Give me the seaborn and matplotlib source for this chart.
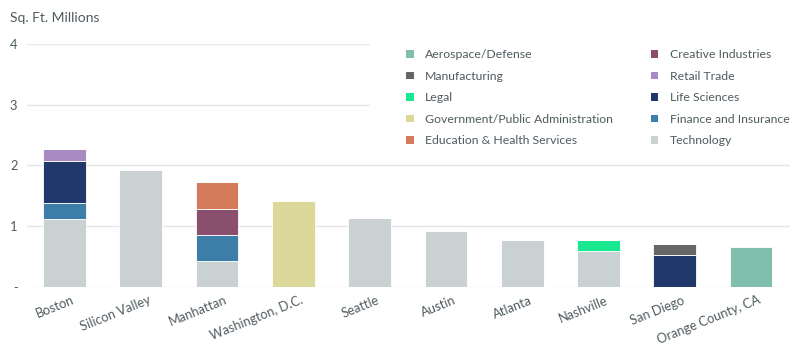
import pandas as pd
import matplotlib.pyplot as plt
import seaborn as sns
from matplotlib.patches import Patch, Rectangle
from matplotlib.transforms import ScaledTranslation

# Data (million sq. ft.)
cities = ['Boston', 'Silicon Valley', 'Manhattan', 'Washington, D.C.', 'Seattle',
          'Austin', 'Atlanta', 'Nashville', 'San Diego', 'Orange County, CA']

# legend order (also top-to-bottom stack order)
sectors = ['Aerospace/Defense', 'Manufacturing', 'Legal', 'Government/Public Administration',
           'Education & Health Services', 'Creative Industries', 'Retail Trade',
           'Life Sciences', 'Finance and Insurance', 'Technology']

aerospace     = [0, 0, 0, 0, 0, 0, 0, 0, 0, 0.65]
manufacturing = [0, 0, 0, 0, 0, 0, 0, 0, 0.18, 0]
legal         = [0, 0, 0, 0, 0, 0, 0, 0.18, 0, 0]
government    = [0, 0, 0, 1.42, 0, 0, 0, 0, 0, 0]
education     = [0, 0, 0.44, 0, 0, 0, 0, 0, 0, 0]
creative      = [0, 0, 0.42, 0, 0, 0, 0, 0, 0, 0]
retail        = [0.19, 0, 0, 0, 0, 0, 0, 0, 0, 0]
life_sciences = [0.70, 0, 0, 0, 0, 0, 0, 0, 0.53, 0]
finance       = [0.26, 0, 0.43, 0, 0, 0, 0, 0, 0, 0]
technology    = [1.12, 1.93, 0.43, 0, 1.13, 0.92, 0.77, 0.59, 0, 0]

colors = ['#80bfac', '#666666', '#19e890', '#dbd899', '#d57a5a',
          '#8a4e6f', '#a98bc4', '#20386a', '#3d7ea8', '#c9d1d3']

series = [aerospace, manufacturing, legal, government, education,
          creative, retail, life_sciences, finance, technology]

rows = []
for i, city in enumerate(cities):
    for sector, vals in zip(sectors, series):
        if vals[i] > 0:
            rows.append({'city': city, 'sector': sector, 'value': vals[i]})
df = pd.DataFrame(rows)

sns.set_style('white')
plt.rcParams['font.family'] = ['Lato', 'DejaVu Sans']
text_color = '#4f5b5f'

fig = plt.figure(figsize=(8, 3.59), dpi=100)
ax = fig.add_axes([0.034, 0.2006, 0.9535, 0.677])

sns.histplot(data=df, x='city', weights='value', hue='sector', hue_order=sectors,
             palette=colors, multiple='stack', discrete=True, shrink=0.56,
             alpha=1, edgecolor='white', linewidth=0.6, legend=False, ax=ax)

ax.set_xlim(-0.49, 9.51)
ax.set_ylim(0, 4)
ax.set_yticks([0, 1, 2, 3, 4])
ax.set_yticklabels(['-', '1', '2', '3', '4'])
ax.set_xlabel('')
ax.set_ylabel('')
ax.grid(axis='y', color='#e6e6e6', linewidth=1)
ax.set_axisbelow(True)
for s in ax.spines.values():
    s.set_visible(False)
ax.tick_params(axis='both', length=0, colors=text_color, labelsize=9.3)
ax.tick_params(axis='y', pad=7)
ax.tick_params(axis='x', pad=5)
shift = ScaledTranslation(5 / 72, 0, fig.dpi_scale_trans)
for lab in ax.get_xticklabels():
    lab.set_rotation(22)
    lab.set_ha('right')
    lab.set_va('top')
    lab.set_rotation_mode('anchor')
    lab.set_transform(lab.get_transform() + shift)

# white panel behind legend hides upper gridlines
ax.add_patch(Rectangle((0.4495, 0.6), 0.6, 0.5, transform=ax.transAxes,
                       facecolor='white', edgecolor='none', zorder=0.8, clip_on=False))

handles = [Patch(facecolor=c, edgecolor='none', label=s) for s, c in zip(sectors, colors)]
leg = ax.legend(handles=handles, ncol=2, loc='upper left', bbox_to_anchor=(0.489, 1.003),
                frameon=False, fontsize=8.8, handlelength=0.6, handleheight=0.6,
                handletextpad=0.95, labelspacing=0.86, columnspacing=3.1, borderpad=0)
for t in leg.get_texts():
    t.set_color(text_color)

fig.text(0.0125, 0.951, 'Sq. Ft. Millions', color=text_color, fontsize=10, va='center')

plt.savefig('out.png', dpi=100)
